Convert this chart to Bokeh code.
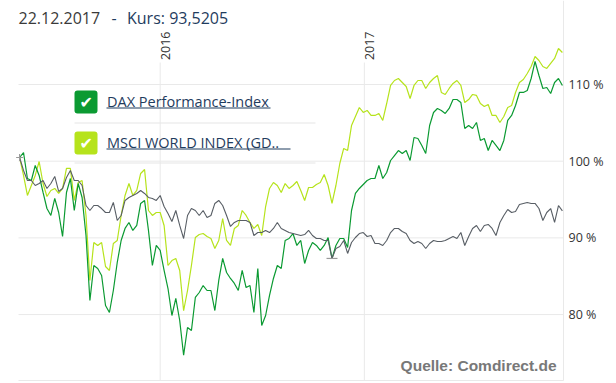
import math
import pandas as pd
from bokeh.plotting import figure
from bokeh.models import Range1d, Label, BoxAnnotation, ColumnDataSource
from bokeh.core.properties import value
from bokeh.embed import file_html
from bokeh.resources import INLINE

# ---------------- data (weekly readings, % of start value) ----------------
dates = pd.date_range(end="2017-12-22", periods=140, freq="7D")

kurs = [100.48, 98.79, 97.48, 97.48, 96.83, 97.09, 97.48, 96.44, 97.09, 98.01,
        96.05, 96.44, 97.87, 98.79, 97.48, 97.48, 96.83, 94.22, 93.57, 94.22,
        94.22, 93.83, 93.31, 93.31, 94.62, 92.27, 92.92, 94.88, 95.27, 95.53,
        95.79, 96.18, 95.79, 95.27, 95.14, 94.88, 95.53, 94.09, 93.18, 92.14,
        93.57, 91.62, 89.92, 92.92, 93.83, 93.57, 92.92, 93.57, 92.66, 92.92,
        94.49, 94.88, 94.22, 92.92, 91.49, 92.01, 92.27, 92.27, 92.27, 92.01,
        90.31, 90.70, 90.70, 90.97, 90.70, 91.23, 92.01, 91.23, 90.97, 90.70,
        90.57, 90.44, 90.31, 90.44, 90.97, 90.31, 89.92, 89.92, 89.66, 89.66,
        87.32, 88.62, 88.88, 89.66, 87.97, 89.40, 90.05, 90.57, 90.70, 90.18,
        90.31, 89.27, 89.27, 89.01, 89.66, 90.70, 91.23, 91.23, 90.83, 90.57,
        89.66, 89.27, 89.53, 89.27, 88.62, 89.27, 89.66, 89.53, 89.53, 89.66,
        89.92, 90.18, 89.92, 90.70, 89.01, 90.18, 91.23, 91.62, 90.83, 91.62,
        91.75, 91.23, 90.31, 92.01, 92.92, 93.70, 93.31, 93.44, 94.36, 94.49,
        94.62, 94.49, 94.49, 93.83, 92.27, 93.31, 93.83, 92.01, 94.22, 93.52]

dax = [100.48, 101.13, 97.74, 97.48, 99.44, 98.14, 95.92, 93.83, 92.92, 95.14,
       93.31, 90.18, 95.92, 97.74, 93.57, 97.09, 95.27, 90.31, 81.84, 86.40,
       86.01, 85.10, 81.19, 80.27, 83.14, 86.79, 89.66, 91.23, 92.01, 90.97,
       91.62, 94.49, 94.88, 90.97, 86.40, 89.01, 88.36, 85.75, 83.40, 79.88,
       82.10, 79.23, 74.70, 78.32, 77.92, 82.23, 82.88, 83.79, 83.14, 83.14,
       80.53, 84.45, 87.32, 85.49, 84.71, 84.06, 83.14, 85.75, 83.53, 83.79,
       80.27, 86.01, 78.58, 79.88, 82.49, 84.71, 86.40, 86.01, 89.66, 89.92,
       90.57, 89.01, 89.66, 86.66, 88.36, 89.40, 89.01, 88.36, 89.01, 90.05,
       87.32, 89.01, 89.92, 89.92, 88.75, 93.57, 95.79, 96.44, 96.96, 97.48,
       97.74, 97.74, 99.44, 97.74, 98.53, 100.09, 100.74, 101.39, 101.00, 101.39,
       100.09, 103.09, 102.96, 102.05, 101.00, 104.65, 106.35, 106.87, 106.61, 106.22,
       106.87, 108.04, 108.04, 107.65, 104.26, 104.65, 104.26, 105.05, 102.70, 102.96,
       101.39, 102.70, 102.05, 101.39, 102.70, 105.31, 105.96, 107.26, 108.96, 108.96,
       109.22, 110.78, 113.00, 111.17, 109.48, 109.61, 108.83, 110.26, 110.78, 109.87]

msci = [100.48, 98.14, 95.53, 96.83, 98.14, 99.96, 97.09, 95.40, 96.18, 96.44,
        95.79, 96.44, 99.05, 99.05, 94.88, 97.22, 97.48, 92.92, 84.45, 89.40,
        89.01, 89.40, 86.27, 85.75, 89.27, 89.66, 92.92, 95.53, 97.09, 95.53,
        96.18, 98.40, 98.92, 93.57, 92.92, 93.31, 93.31, 91.62, 86.40, 87.05,
        87.32, 85.75, 80.50, 83.14, 86.40, 90.05, 90.44, 90.57, 90.18, 89.92,
        88.62, 89.66, 92.53, 89.66, 89.01, 91.23, 91.62, 93.57, 92.92, 92.01,
        91.23, 91.75, 90.31, 94.09, 96.44, 97.22, 96.83, 95.92, 97.09, 96.44,
        96.83, 97.35, 96.18, 94.88, 96.57, 96.57, 96.96, 97.22, 98.27, 96.83,
        94.49, 96.83, 99.70, 101.66, 101.40, 104.65, 105.83, 107.00, 106.35, 106.61,
        105.96, 105.96, 106.22, 105.31, 107.52, 109.87, 110.52, 110.78, 110.26, 109.74,
        108.17, 109.87, 110.52, 110.52, 109.48, 110.26, 110.78, 111.17, 108.96, 108.70,
        109.48, 110.13, 110.52, 109.87, 107.65, 108.04, 108.70, 108.57, 107.52, 107.13,
        107.39, 105.96, 105.96, 105.05, 105.83, 107.00, 107.26, 108.96, 110.26, 110.65,
        111.43, 112.35, 113.65, 113.13, 112.35, 112.09, 112.74, 113.39, 114.69, 114.17]

y_ticks = [80, 90, 100, 110]
y_tick_labels = ["80 %", "90 %", "100 %", "110 %"]
year_starts = ["2016-01-01", "2017-01-01"]
year_labels = ["2016", "2017"]
title_date = "22.12.2017"
title_sep = "-"
title_kurs = "Kurs: 93,5205"
series_names = ["DAX Performance-Index", "MSCI WORLD INDEX (GD.."]
source_text = "Quelle: Comdirect.de"

# ---------------- layout / styling ----------------
C_KURS = "#585e65"
C_DAX = "#0b9a32"
C_MSCI = "#b6e31c"
C_GRID = "#e9e9e9"
C_NAVY = "#1f3c5e"
C_TEXT = "#333333"
FONT = "Open Sans"

W, H = 614, 382
# plot area in canvas pixels
PL, PR, PT, PB = 18, 563, 30, 380
D_LEFT, D_RIGHT = pd.Timestamp("2015-04-22"), pd.Timestamp("2017-12-24")
PX_PER_PCT = 7.67
VAL_AT_Y0 = 120.95          # value at canvas top row

day_per_px = (D_RIGHT - D_LEFT) / (PR - PL)
x_start = D_LEFT - PL * day_per_px
x_end = D_RIGHT + (W - PR) * day_per_px


def yval(canvas_y):
    return VAL_AT_Y0 - canvas_y / PX_PER_PCT


p = figure(width=W, height=H, output_backend="svg", toolbar_location=None,
           x_axis_type="datetime", x_axis_location=None, y_axis_location=None,
           x_range=Range1d(x_start, x_end), y_range=Range1d(yval(H), yval(0)),
           min_border=0, min_border_left=0, min_border_right=0,
           min_border_top=0, min_border_bottom=0)
p.outline_line_color = None
p.background_fill_color = "white"
p.border_fill_color = "white"
p.grid.visible = False

# horizontal grid + right/bottom frame lines
n = len(y_ticks)
p.segment(x0=[D_LEFT] * n, y0=y_ticks, x1=[D_RIGHT] * n, y1=y_ticks,
          line_color=C_GRID, line_width=1)
p.segment(x0=[D_RIGHT], y0=[yval(PB)], x1=[D_RIGHT], y1=[yval(0)],
          line_color=C_GRID, line_width=1)
p.segment(x0=[D_LEFT], y0=[yval(PB)], x1=[D_RIGHT], y1=[yval(PB)],
          line_color=C_GRID, line_width=1)

# year grid lines (below the rotated year labels) and labels
yr = pd.to_datetime(year_starts)
p.segment(x0=yr, y0=[yval(PB)] * len(yr), x1=yr, y1=[yval(62)] * len(yr),
          line_color=C_GRID, line_width=1)
p.text(x=yr, y=[yval(31)] * len(yr), text=year_labels, angle=math.pi / 2,
       text_align="right", text_baseline="top", x_offset=1,
       text_font=value(FONT), text_font_size="12.5px", text_color=C_TEXT)

# right-hand percentage labels
p.text(x=[D_RIGHT] * n, y=y_ticks, text=y_tick_labels, x_offset=5,
       text_align="left", text_baseline="middle",
       text_font=value(FONT), text_font_size="12.5px", text_color=C_TEXT)

# series
src = ColumnDataSource(dict(date=dates, kurs=kurs, dax=dax, msci=msci))
p.line("date", "msci", source=src, line_color=C_MSCI, line_width=1.2)
p.line("date", "dax", source=src, line_color=C_DAX, line_width=1.2)
p.line("date", "kurs", source=src, line_color=C_KURS, line_width=1.1)

imin = min(range(len(kurs)), key=lambda i: kurs[i])
p.scatter(x=[dates[0]], y=[kurs[0]], marker="cross", size=7, line_color="#9a9a9a", line_width=1.2)
p.scatter(x=[dates[imin]], y=[kurs[imin]], marker="dash", size=11, line_color="#9a9a9a", line_width=1.2)


# ---------------- screen-positioned decorations ----------------
def sy(canvas_y):
    return H - canvas_y


def sbox(l, r, t, b, color, radius=0):
    p.add_layout(BoxAnnotation(left=l, right=r, top=sy(t), bottom=sy(b),
                               left_units="screen", right_units="screen",
                               top_units="screen", bottom_units="screen",
                               fill_color=color, fill_alpha=1.0, line_color=None,
                               border_radius=radius, level="overlay"))


def slabel(x, y, text, **kw):
    p.add_layout(Label(x=x, y=sy(y), x_units="screen", y_units="screen",
                       text=text, level="overlay", **kw))


# title
slabel(18, 17, title_date, text_font=FONT, text_font_size="16px", text_color="#3a3a3a",
       text_baseline="middle")
slabel(111, 17, title_sep, text_font=FONT, text_font_size="16px", text_color=C_NAVY,
       text_baseline="middle")
slabel(126.5, 17, title_kurs, text_font=FONT, text_font_size="16px", text_color=C_NAVY,
       text_baseline="middle")

# legend
leg = [(series_names[0], C_DAX, 90, 101.2, 107, 164, 122),
       (series_names[1], C_MSCI, 131, 142.0, 148, 184, 162)]
for name, col, top, cy, uy, uw, sepy in leg:
    sbox(74, 97, top, top + 23, col, radius=3)
    slabel(85.7, top + 12.3, "\u2714", text_font="DejaVu Sans", text_font_size="16px",
           text_color="white", text_align="center", text_baseline="middle")
    slabel(106.5, cy, name, text_font=FONT, text_font_size="14.5px", text_color=C_NAVY,
           text_baseline="middle")
    sbox(106, 106 + uw, uy, uy + 1, C_NAVY)
    sbox(74, 315, sepy, sepy + 1, "#e6e6e6")

# source note
slabel(556, 365, source_text, text_font="Liberation Sans", text_font_style="bold",
       text_font_size="15.5px", text_color="#787878", text_align="right",
       text_baseline="middle")

open("out.html", "w").write(file_html(p, INLINE))
